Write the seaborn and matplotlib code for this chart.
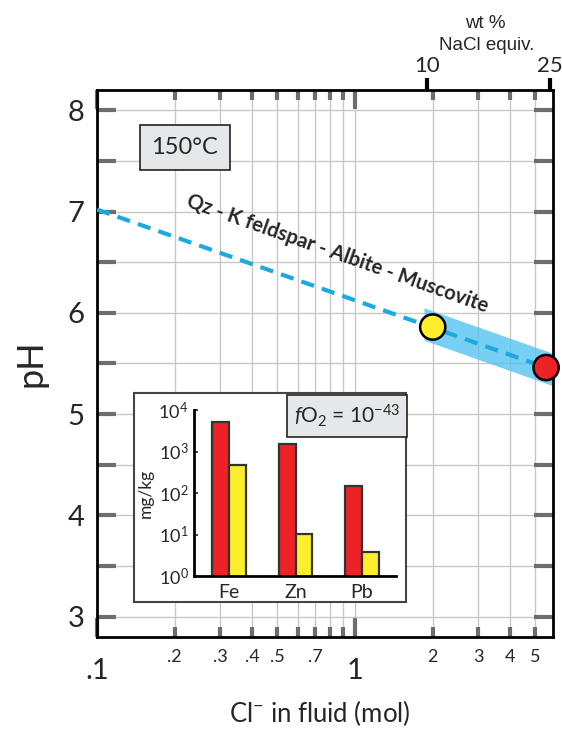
import numpy as np
import pandas as pd
import seaborn as sns
import matplotlib.pyplot as plt
from matplotlib.ticker import FixedLocator, FixedFormatter, NullLocator
from matplotlib.patches import Rectangle

# --- main pH vs Cl diagram ---
cl_line = [0.1, 5.5]
ph_line = [7.02, 5.46]
cl_points = [2.0, 5.5]
ph_points = [5.86, 5.46]
point_labels = ["yellow", "red"]
band_cl = [1.85, 5.85]
band_low = [5.73, 5.28]
band_high = [6.05, 5.60]

x_major = [0.1, 1]
x_major_labels = [".1", "1"]
x_minor = [0.2, 0.3, 0.4, 0.5, 0.6, 0.7, 0.8, 0.9, 2, 3, 4, 5]
x_minor_labels = [".2", ".3", ".4", ".5", "", ".7", "", "", "2", "3", "4", "5"]
y_major = [3, 4, 5, 6, 7, 8]
y_minor = [3.5, 4.5, 5.5, 6.5, 7.5]
wt_ticks = [1.90, 5.70]   # mol Cl for 10 and 25 wt% NaCl
wt_labels = ["10", "25"]

# --- inset bars ---
elements = ["Fe", "Zn", "Pb"]
red_vals = [5200, 1550, 146]
yellow_vals = [470, 10.5, 3.8]

RED = "#ec2227"
YELLOW = "#fcee2b"
BLUE = "#1ba9e1"
GRID = "#c8c8c8"
TICK = "#6d6d6d"
BOXFILL = "#e6e7e8"

sns.set_style("white")
plt.rcParams['font.family'] = ['Lato', 'DejaVu Sans']
plt.rcParams['mathtext.fontset'] = 'custom'
plt.rcParams['mathtext.rm'] = 'Lato'
plt.rcParams['mathtext.it'] = 'Lato:italic'

W, H = 562, 729
fig = plt.figure(figsize=(W / 100, H / 100), dpi=100)

def px_rect(x0, y0, x1, y1):
    return [x0 / W, 1 - y1 / H, (x1 - x0) / W, (y1 - y0) / H]

ax = fig.add_axes(px_rect(97, 90, 553, 637))
ax.set_xscale("log")
ax.set_xlim(0.1, 5.85)
ax.set_ylim(2.8, 8.2)

ax.fill_between(band_cl, band_low, band_high, color="#55c5f0", alpha=0.8, lw=0, zorder=2)
sns.lineplot(x=cl_line, y=ph_line, color=BLUE, lw=3, linestyle=(0, (3.2, 2.0)), ax=ax, zorder=3)
sns.scatterplot(x=cl_points, y=ph_points, hue=point_labels, palette=[YELLOW, RED], s=330,
                edgecolor="black", linewidth=1.8, legend=False, ax=ax, zorder=4, clip_on=False)

# top axis: wt % NaCl equiv
ax2 = ax.twiny()
ax2.set_xscale("log")
ax2.set_xlim(ax.get_xlim())
ax2.xaxis.set_major_locator(FixedLocator(wt_ticks))
ax2.xaxis.set_major_formatter(FixedFormatter(wt_labels))
ax2.xaxis.set_minor_locator(NullLocator())
ax2.tick_params(axis="x", direction="out", length=9, width=3, color="black", labelsize=16, pad=1)
for s in ax2.spines.values():
    s.set_visible(False)

ax.xaxis.set_major_locator(FixedLocator(x_major))
ax.xaxis.set_major_formatter(FixedFormatter(x_major_labels))
ax.xaxis.set_minor_locator(FixedLocator(x_minor))
ax.xaxis.set_minor_formatter(FixedFormatter(x_minor_labels))
ax.yaxis.set_major_locator(FixedLocator(y_major))
ax.yaxis.set_minor_locator(FixedLocator(y_minor))

ax.grid(which="both", color=GRID, lw=1.0)
ax.set_axisbelow(True)
ax.tick_params(which="both", direction="in", top=True, bottom=True, left=True, right=True,
               labeltop=False, color=TICK, width=3)
ax.tick_params(axis="y", which="both", length=14, labelsize=21, pad=9)
ax.tick_params(axis="x", which="major", length=14, labelsize=21, pad=15)
ax.tick_params(axis="x", which="minor", length=7.5, labelsize=13, pad=9)
for s in ax.spines.values():
    s.set_color("black")
    s.set_linewidth(2)

ax.set_ylabel("pH", fontsize=26)
ax.yaxis.set_label_coords(-0.1075, 0.5)
ax.set_xlabel("Cl$^{-}$ in fluid (mol)", fontsize=18.5)
ax.xaxis.set_label_coords(0.489, -0.112)

ax.text(0.851, 6.58, "Qz - K feldspar - Albite - Muscovite", fontsize=14.6, fontweight="bold",
        rotation=-19.5, rotation_mode="anchor", ha="center", va="center")
ax.text(0.219, 7.63, "150°C", fontsize=17, ha="center", va="center",
        bbox=dict(boxstyle="square,pad=0.5", facecolor=BOXFILL, edgecolor="#222", lw=1.2))

fig.text(485 / W, 1 - 23 / H, "wt %", family="Liberation Sans", fontsize=13.5, ha="center", va="center")
fig.text(487 / W, 1 - 46 / H, "NaCl equiv.", family="Liberation Sans", fontsize=13.5, ha="center", va="center")

# inset box and bar chart
fig.add_artist(Rectangle((134 / W, 1 - 602 / H), 272 / W, 209 / H, transform=fig.transFigure,
                         facecolor="white", edgecolor="#444", lw=1.5, zorder=1))
axi = fig.add_axes(px_rect(194, 410, 396, 576))
axi.set_zorder(2)
axi.patch.set_alpha(0)
df = pd.DataFrame({
    "element": elements * 2,
    "case": ["red"] * 3 + ["yellow"] * 3,
    "conc": red_vals + yellow_vals,
})
sns.barplot(data=df, x="element", y="conc", hue="case", palette=[RED, YELLOW], width=0.5,
            saturation=1, edgecolor="#333", linewidth=1.6, errorbar=None, legend=False, ax=axi)
axi.set_yscale("log")
axi.set_ylim(1, 1e4)
axi.set_xlim(-0.526, 2.51)
axi.yaxis.set_minor_locator(NullLocator())
axi.set_yticks([1, 10, 100, 1000, 10000])
axi.set_yticklabels(["$10^{0}$", "$10^{1}$", "$10^{2}$", "$10^{3}$", "$10^{4}$"])
axi.tick_params(axis="y", direction="in", left=True, length=3, width=1.2, labelsize=13, pad=4)
axi.tick_params(axis="x", length=0, labelsize=14, pad=6)
axi.set_xlabel("")
axi.set_ylabel("mg/kg", fontsize=12.5, labelpad=3)
for side in ["top", "right"]:
    axi.spines[side].set_visible(False)
for side in ["left", "bottom"]:
    axi.spines[side].set_color("black")
    axi.spines[side].set_linewidth(2)
fig.text(347 / W, 1 - 416 / H, "$\\mathit{f}$O$_{2}$ = 10$^{-43}$", fontsize=15, ha="center", va="center",
         zorder=3, bbox=dict(boxstyle="square,pad=0.35", facecolor=BOXFILL, edgecolor="#222", lw=1.2))

fig.savefig("out.png", dpi=100)
